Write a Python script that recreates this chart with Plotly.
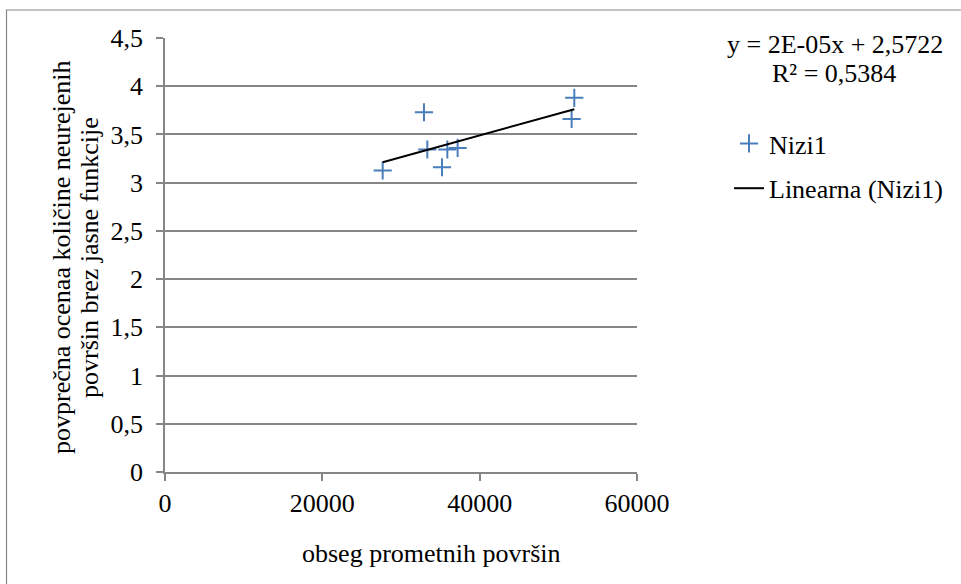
import numpy as np
import plotly.graph_objects as go

# ---- data ----
x_vals = [27670, 32920, 33345, 35890, 37200, 35210, 52030, 51690]
y_vals = [3.126, 3.73, 3.344, 3.344, 3.36, 3.16, 3.88, 3.66]
series_name = "Nizi1"
trend_name = "Linearna (Nizi1)"
equation_text = "y = 2E-05x + 2,5722"
r2_text = "R² = 0,5384"
x_tickvals = [0, 20000, 40000, 60000]
x_ticktext = ["0", "20000", "40000", "60000"]
y_tickvals = [0, 0.5, 1, 1.5, 2, 2.5, 3, 3.5, 4, 4.5]
y_ticktext = ["0", "0,5", "1", "1,5", "2", "2,5", "3", "3,5", "4", "4,5"]
x_title = "obseg prometnih površin"
y_title_1 = "povprečna ocenaa količine neurejenih"
y_title_2 = "površin brez jasne funkcije"

# linear trend from data
slope, intercept = np.polyfit(x_vals, y_vals, 1)
tx = [min(x_vals), max(x_vals)]
ty = [slope * v + intercept for v in tx]

FONT = '"Liberation Serif", "Times New Roman", Tinos, Times, serif'
FS = 26
GRAY = "#868686"
BLUE = "#4A7EBB"

W, H = 961, 584
L, R, T, B = 165, 324, 38, 112
PW, PH = W - L - R, H - T - B


def px_x(p):
    return (p - L) / PW


def px_y(p):
    return 1 - (p - T) / PH


fig = go.Figure()
fig.add_trace(go.Scatter(
    x=x_vals, y=y_vals, mode="markers", name=series_name, legendgroup="a",
    marker=dict(symbol="cross-thin", size=13, line=dict(color=BLUE, width=2), color=BLUE),
))
fig.add_trace(go.Scatter(
    x=tx, y=ty, mode="lines", name=trend_name, legendgroup="b",
    line=dict(color="black", width=2),
))

fig.update_layout(
    width=W, height=H,
    margin=dict(l=L, r=R, t=T, b=B, pad=0),
    paper_bgcolor="white", plot_bgcolor="white",
    font=dict(family=FONT, size=FS, color="black"),
    showlegend=True,
    legend=dict(
        x=px_x(729), y=px_y(120), xanchor="left", yanchor="top",
        font=dict(family=FONT, size=FS, color="black"),
        tracegroupgap=8, traceorder="grouped",
        bgcolor="rgba(0,0,0,0)", borderwidth=0,
    ),
    xaxis=dict(
        range=[0, 60000], tickvals=x_tickvals, ticktext=x_ticktext,
        showgrid=False, zeroline=False, showline=True, linecolor=GRAY, linewidth=1.5,
        ticks="outside", ticklen=7, tickcolor=GRAY, tickwidth=1.5,
        tickfont=dict(family=FONT, size=FS, color="black"),
        fixedrange=True,
    ),
    yaxis=dict(
        range=[0, 4.5], tickvals=y_tickvals, ticktext=y_ticktext,
        showgrid=True, gridcolor=GRAY, gridwidth=1.5,
        zeroline=False, showline=True, linecolor=GRAY, linewidth=1.5,
        ticks="outside", ticklen=7, tickcolor=GRAY, tickwidth=1.5,
        ticklabelstandoff=8,
        tickfont=dict(family=FONT, size=FS, color="black"),
        fixedrange=True,
    ),
)

# outer chart border (top-left visible)
fig.add_shape(type="rect", xref="paper", yref="paper",
              x0=px_x(6.5), y0=px_y(10), x1=px_x(990), y1=px_y(620),
              line=dict(color=GRAY, width=1.2), layer="below")

# axis titles
fig.add_annotation(text=x_title, xref="paper", yref="paper",
                   x=px_x(431), y=px_y(553), showarrow=False,
                   xanchor="center", yanchor="middle",
                   font=dict(family=FONT, size=FS, color="black"))
fig.add_annotation(text=y_title_1, xref="paper", yref="paper",
                   x=px_x(61), y=px_y(258), showarrow=False, textangle=-90,
                   xanchor="center", yanchor="middle",
                   font=dict(family=FONT, size=FS, color="black"))
fig.add_annotation(text=y_title_2, xref="paper", yref="paper",
                   x=px_x(89), y=px_y(258), showarrow=False, textangle=-90,
                   xanchor="center", yanchor="middle",
                   font=dict(family=FONT, size=FS, color="black"))

# trendline equation
fig.add_annotation(text=equation_text, xref="paper", yref="paper",
                   x=px_x(835), y=px_y(44), showarrow=False,
                   xanchor="center", yanchor="middle",
                   font=dict(family=FONT, size=FS, color="black"))
fig.add_annotation(text=r2_text, xref="paper", yref="paper",
                   x=px_x(834), y=px_y(73), showarrow=False,
                   xanchor="center", yanchor="middle",
                   font=dict(family=FONT, size=FS, color="black"))

fig.write_html("out.html", config={"displayModeBar": False},
               post_script="document.body.style.margin='0';")
